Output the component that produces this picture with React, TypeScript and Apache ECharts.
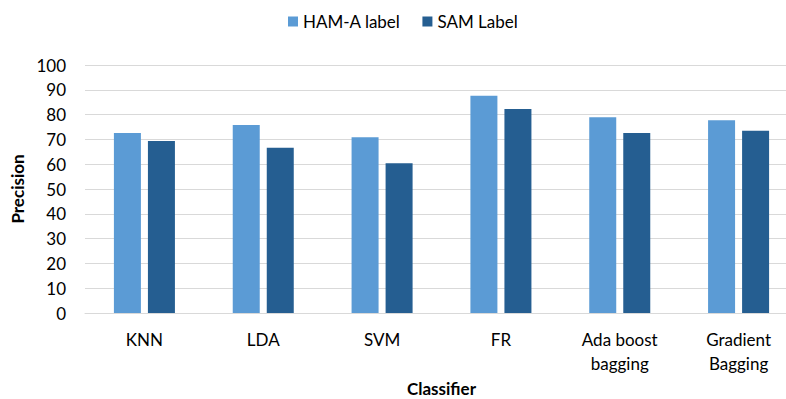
import React, { useEffect, useRef } from "react";
import * as echarts from "echarts";

const classifiers = ["KNN", "LDA", "SVM", "FR", "Ada boost\nbagging", "Gradient\nBagging"];
const hamALabel = [72.6, 75.8, 70.9, 87.6, 78.9, 77.7];
const samLabel = [69.4, 66.6, 60.4, 82.3, 72.6, 73.5];
const seriesNames = ["HAM-A label", "SAM Label"];

const FONT = "Lato, 'Open Sans', sans-serif";

export default function App() {
  const ref = useRef<HTMLDivElement>(null);

  useEffect(() => {
    document.body.style.margin = "0";
    if (!ref.current) return;
    const chart = echarts.init(ref.current, undefined, { renderer: "svg" });
    chart.setOption({
      animation: false,
      backgroundColor: "#ffffff",
      textStyle: { fontFamily: FONT, color: "#000" },
      legend: {
        data: seriesNames,
        left: 283,
        top: 8,
        icon: "rect",
        itemWidth: 10,
        itemHeight: 10,
        itemGap: 22,
        textStyle: { fontFamily: FONT, fontSize: 17, color: "#000" },
      },
      grid: {
        left: 85,
        top: 65,
        bottom: 86,
        width: 713,
        containLabel: false,
        outerBoundsMode: "none",
      },
      xAxis: {
        type: "category",
        data: classifiers,
        name: "Classifier",
        nameLocation: "middle",
        nameGap: 67,
        nameTextStyle: { fontFamily: FONT, fontSize: 17, fontWeight: "bold", color: "#000" },
        axisLine: { show: true, lineStyle: { color: "#d9d9d9", width: 1 } },
        axisTick: { show: false },
        axisLabel: {
          interval: 0,
          margin: 14,
          fontFamily: FONT,
          fontSize: 17,
          lineHeight: 24,
          color: "#000",
        },
      },
      yAxis: {
        type: "value",
        min: 0,
        max: 100,
        interval: 10,
        name: "Precision",
        nameLocation: "middle",
        nameGap: 56,
        nameTextStyle: { fontFamily: FONT, fontSize: 17, fontWeight: "bold", color: "#000" },
        axisLine: { show: false },
        axisTick: { show: false },
        axisLabel: { margin: 19, fontFamily: FONT, fontSize: 17, color: "#000" },
        splitLine: { show: true, lineStyle: { color: "#d9d9d9", width: 1 } },
      },
      series: [
        {
          name: seriesNames[0],
          type: "bar",
          data: hamALabel,
          barWidth: 27,
          barGap: "26%",
          itemStyle: { color: "#5b9bd5" },
        },
        {
          name: seriesNames[1],
          type: "bar",
          data: samLabel,
          barWidth: 27,
          barGap: "26%",
          itemStyle: { color: "#255e91" },
        },
      ],
    });
    return () => chart.dispose();
  }, []);

  return <div ref={ref} style={{ width: 786, height: 399 }} />;
}
